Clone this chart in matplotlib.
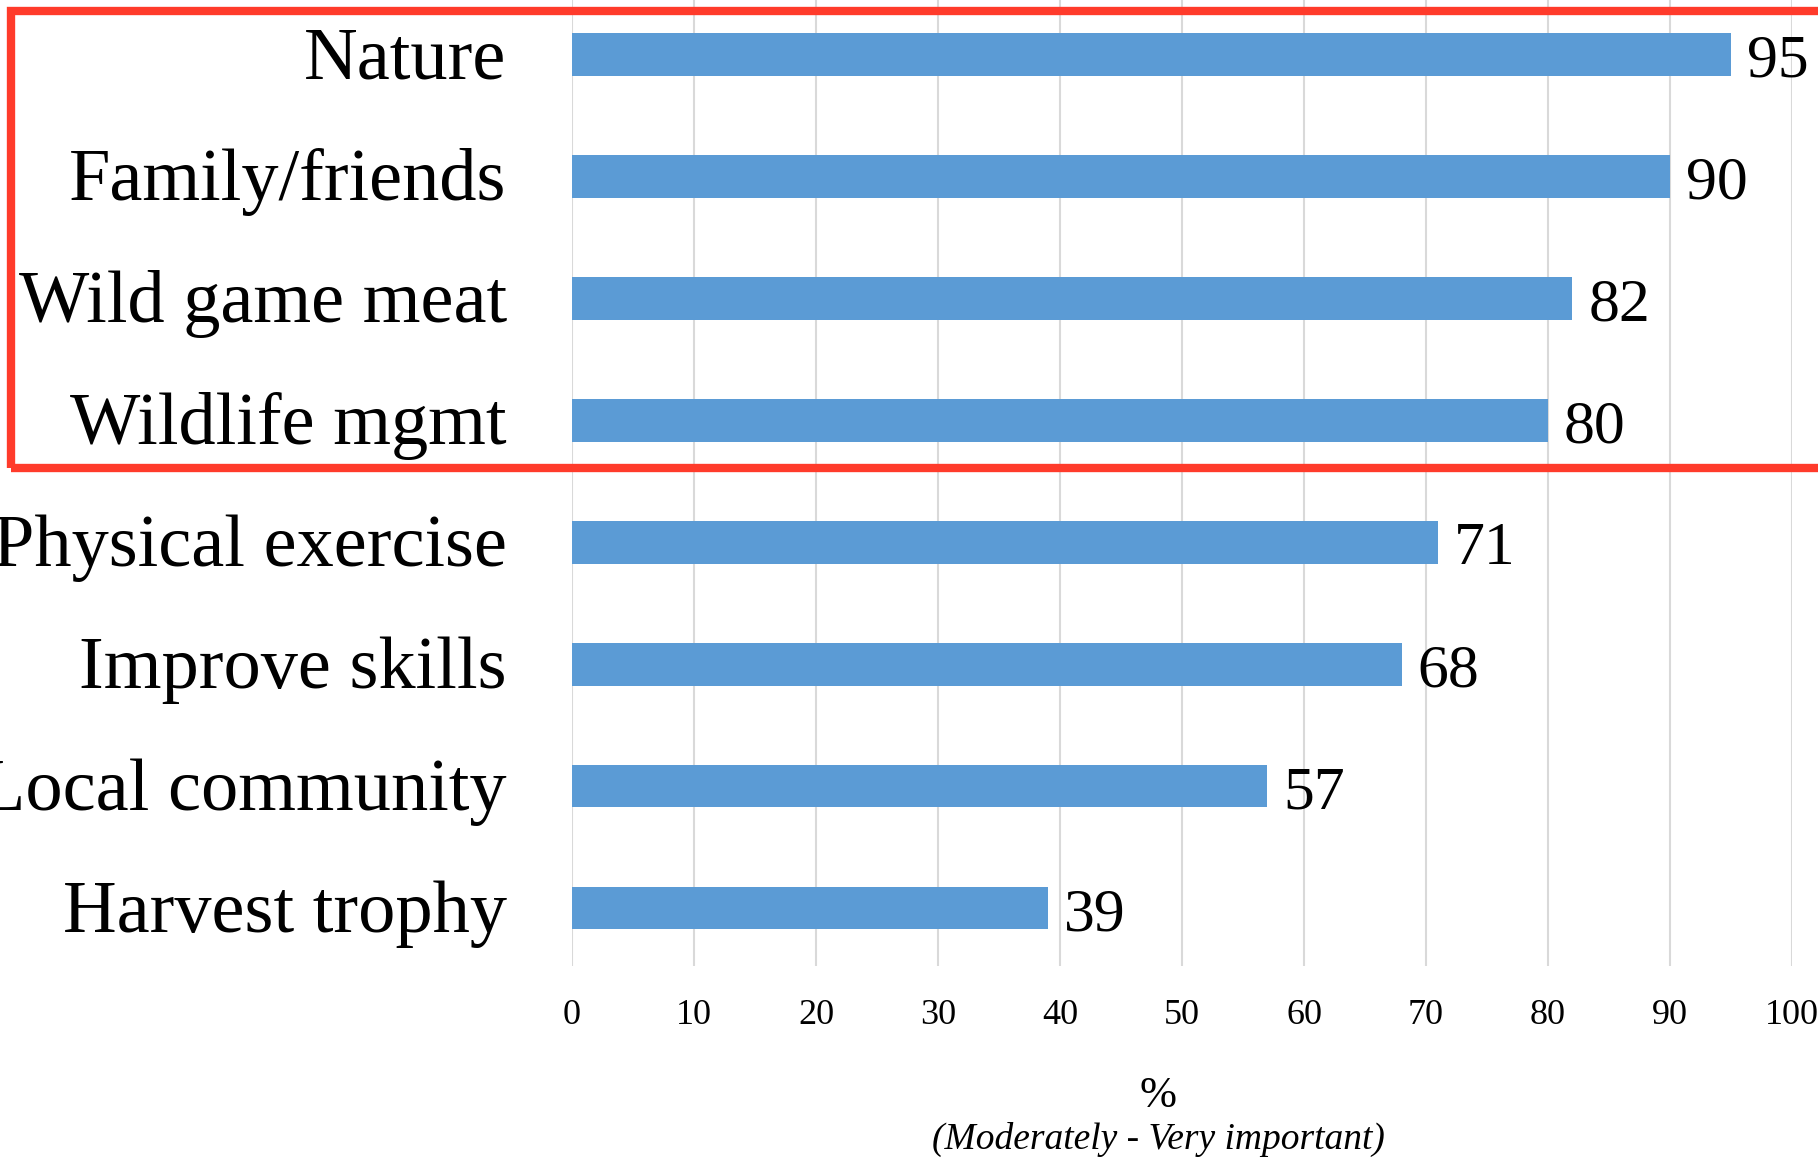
import matplotlib.pyplot as plt
import numpy as np
from matplotlib.patches import Rectangle

categories = ['Nature', 'Family/friends', 'Wild game meat', 'Wildlife mgmt',
              'Physical exercise', 'Improve skills', 'Local community', 'Harvest trophy']
values = [95, 90, 82, 80, 71, 68, 57, 39]
xticks = [0, 10, 20, 30, 40, 50, 60, 70, 80, 90, 100]

plt.rcParams['font.family'] = 'Liberation Serif'

fig = plt.figure(figsize=(18.18, 11.6), dpi=100)
W, H = 1818, 1160
ax = fig.add_axes([572 / W, (H - 966) / H, (1792 - 572) / W, 966 / H])

y = np.arange(len(categories))
bar_h = 0.35
ax.barh(y, values, height=bar_h, color='#5B9BD5', zorder=2)

ax.set_xlim(0, 100)
ax.set_ylim(7.475, -0.447)
ax.set_xticks(xticks)
ax.set_xticklabels([str(t) for t in xticks], fontsize=26)
ax.set_yticks([])
ax.tick_params(axis='x', length=0, pad=24)
ax.grid(axis='x', color='#D9D9D9', linewidth=1.5, zorder=0)
for s in ax.spines.values():
    s.set_visible(False)

for i, (cat, v) in enumerate(zip(categories, values)):
    # category label, baseline a bit below the bar bottom
    ax.annotate(cat, xy=(0, i + bar_h / 2 + 0.02), xycoords=('axes fraction', 'data'),
                xytext=(-47, 0), textcoords='offset points',
                ha='right', va='baseline', fontsize=53.6, annotation_clip=False)
    ax.annotate(str(v), xy=(v, i + bar_h / 2 + 0.005), xycoords='data',
                xytext=(11.5, 0), textcoords='offset points',
                ha='left', va='baseline', fontsize=44.5, annotation_clip=False)

fig.text(1158 / W, 1 - 1107 / H, '%', ha='center', va='baseline', fontsize=32)
fig.text(1158 / W, 1 - 1149 / H, '(Moderately - Very important)', ha='center',
         va='baseline', fontsize=27, style='italic')

# red highlight box round the top four
box = Rectangle((11 / W, 1 - 468 / H), (1840 - 11) / W, (468 - 11) / H,
                transform=fig.transFigure, fill=False, edgecolor='#FF3B2B',
                linewidth=6, clip_on=False, zorder=5)
fig.patches.append(box)

fig.savefig('out.png', dpi=100)
